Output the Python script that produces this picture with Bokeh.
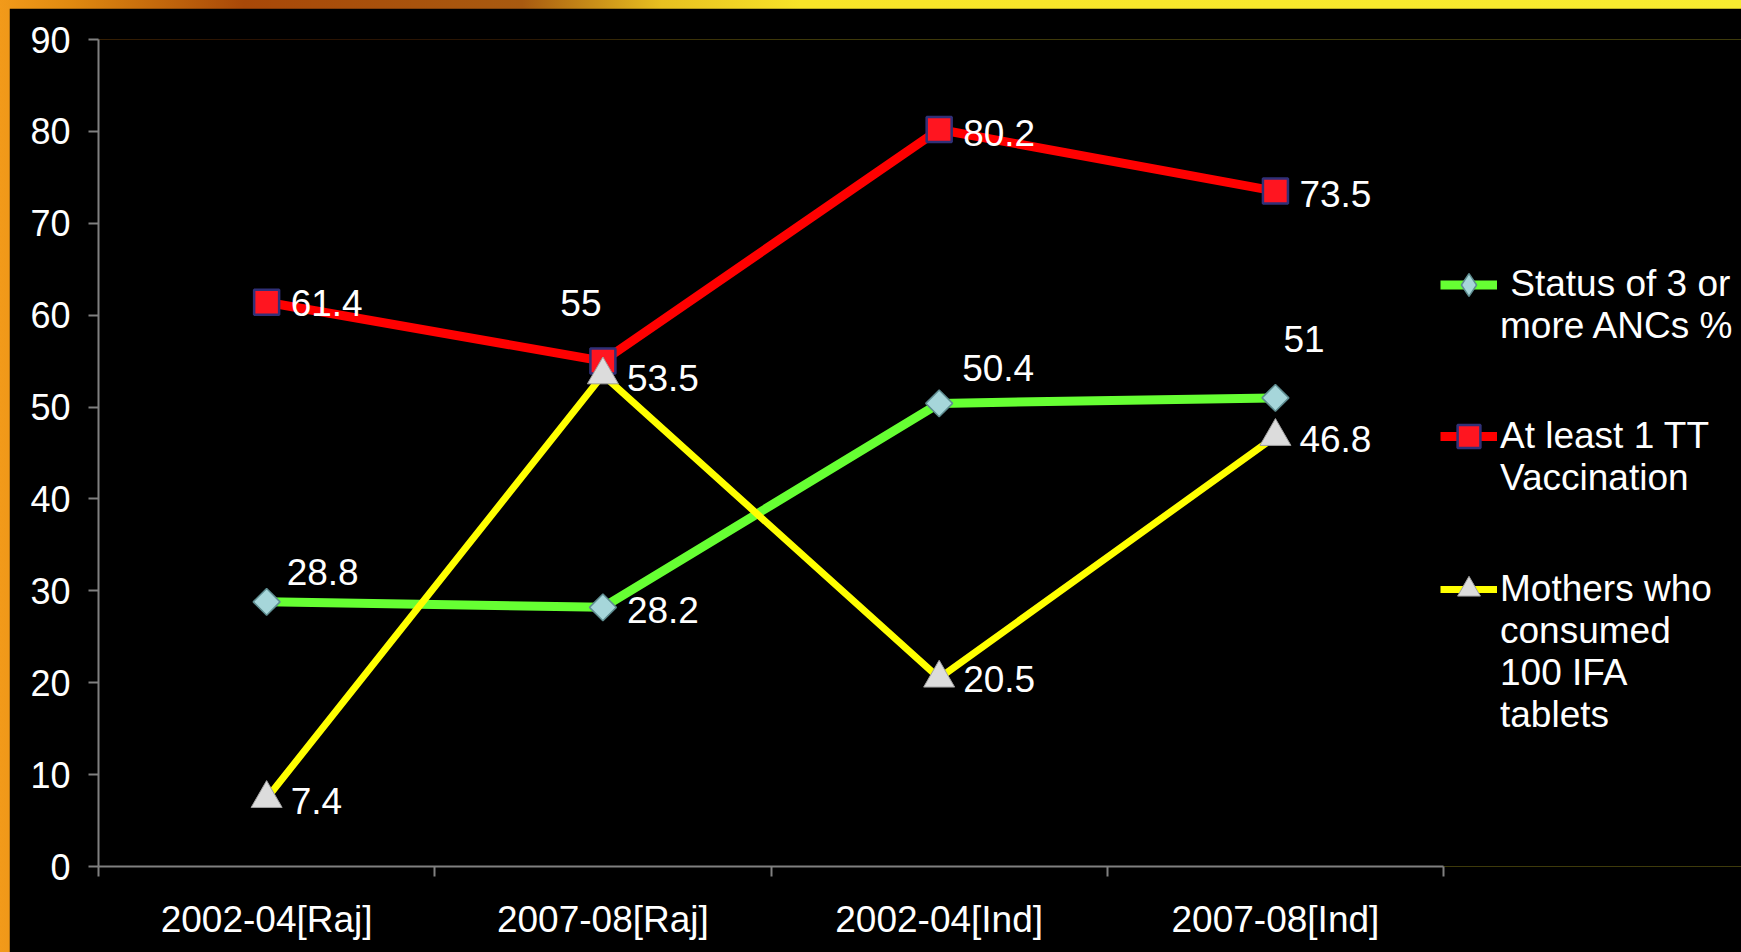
from bokeh.plotting import figure
from bokeh.models import (ColumnDataSource, Range1d, LinearAxis, FixedTicker,
                          Legend, LegendItem)
from bokeh.core.properties import value
from bokeh.embed import file_html
from bokeh.resources import INLINE
import math

# ---------------- data ----------------
categories = ["2002-04[Raj]", "2007-08[Raj]", "2002-04[Ind]", "2007-08[Ind]"]
anc_values = [28.8, 28.2, 50.4, 51]
tt_values = [61.4, 55, 80.2, 73.5]
ifa_values = [7.4, 53.5, 20.5, 46.8]
series_names = [" Status of 3 or\nmore ANCs %", "At least 1 TT\nVaccination",
                "Mothers who\nconsumed\n100 IFA\ntablets"]
y_ticks = [0, 10, 20, 30, 40, 50, 60, 70, 80, 90]

# label placement styles (screen px offsets)
anc_dx = [20, 24, 23, 8]
anc_dy = [-30, 3, -35, -59]
anc_align = ["left", "left", "left", "left"]
tt_dx = [24, -22, 24, 24]
tt_dy = [1, -58, 3, 3]
tt_align = ["left", "center", "left", "left"]
ifa_dx = [24, 24, 24, 24]
ifa_dy = [2, 3, 1, 3]
ifa_align = ["left", "left", "left", "left"]

# legend layout styles: (bottom offset in px from frame bottom, glyph height)
legend_y = [519, 367, 130]
legend_glyph_h = [67, 70, 70]

FONT = "Liberation Sans"
LH = 1.1
n = len(categories)
xs = [i + 0.5 for i in range(n)]

p = figure(width=1732, height=944, output_backend="svg", toolbar_location=None,
           x_range=Range1d(0, 4.886), y_range=Range1d(0, 90),
           min_border_left=89, min_border_top=31, min_border_bottom=86,
           min_border_right=0, x_axis_location=None, y_axis_location=None)
p.background_fill_color = "black"
p.border_fill_color = "black"
p.outline_line_color = None
p.grid.visible = False

# axes
xaxis = LinearAxis(bounds=(0, n))
xaxis.ticker = FixedTicker(ticks=xs, minor_ticks=list(range(n + 1)))
xaxis.major_label_overrides = {x: c for x, c in zip(xs, categories)}
xaxis.major_tick_out = 0
xaxis.major_tick_in = 0
xaxis.minor_tick_out = 10
xaxis.minor_tick_in = 0
xaxis.minor_tick_line_color = "#808080"
xaxis.minor_tick_line_width = 2
xaxis.axis_line_color = "#808080"
xaxis.axis_line_width = 2
xaxis.major_label_text_color = "white"
xaxis.major_label_text_font = FONT
xaxis.major_label_text_font_size = "37px"
xaxis.major_label_standoff = 22
p.add_layout(xaxis, "below")

yaxis = LinearAxis(bounds=(0, 90))
yaxis.ticker = FixedTicker(ticks=y_ticks, minor_ticks=[])
yaxis.major_tick_out = 10
yaxis.major_tick_in = 0
yaxis.major_tick_line_color = "#808080"
yaxis.major_tick_line_width = 2
yaxis.axis_line_color = "#808080"
yaxis.axis_line_width = 2
yaxis.major_label_text_color = "white"
yaxis.major_label_text_font = FONT
yaxis.major_label_text_font_size = "36px"
yaxis.major_label_standoff = 18
p.add_layout(yaxis, "left")

specs = [
    (anc_values, "#66FF33", 9, dict(marker="square", angle=math.pi / 4, size=19,
                                     fill_color="#A6D6DA", line_color="#5E8C90", line_width=1.5),
     anc_dx, anc_dy, anc_align, "diamond"),
    (tt_values, "#FF0000", 9, dict(marker="square", size=25, fill_color="#FF1520",
                                   line_color="#303078", line_width=2.5),
     tt_dx, tt_dy, tt_align, None),
    (ifa_values, "#FFFF00", 7, dict(marker="triangle", size=31, fill_color="#DCDCDC",
                                    line_color="#A0A0A0", line_width=1),
     ifa_dx, ifa_dy, ifa_align, None),
]
for (vals, col, lw, mk, dx, dy, al, leg_marker), name, ly, gh in zip(
        specs, series_names, legend_y, legend_glyph_h):
    src = ColumnDataSource(dict(x=xs, y=vals, lab=[f"{v:g}" for v in vals],
                                dx=dx, dy=dy, al=al))
    lr = p.line("x", "y", source=src, line_color=col, line_width=lw)
    sr = p.scatter("x", "y", source=src, **mk)
    p.text("x", "y", text="lab", source=src, x_offset="dx", y_offset="dy",
           text_align="al", text_baseline="middle", text_color="white",
           text_font=value(FONT), text_font_size="37px")
    leg_renderers = [lr, sr]
    if leg_marker is not None:
        # legend swatches ignore marker angle: a zero-size diamond renderer
        # (invisible in the plot) supplies the key, whose size comes from the box
        kmk = dict(mk)
        kmk.pop("angle", None)
        kmk["marker"] = leg_marker
        kmk["size"] = 0
        kr = p.scatter("x", "y", source=src, **kmk)
        leg_renderers = [lr, kr]
    # blank lines above keep the legend glyph level with the first text line
    k = name.count("\n")
    label = "\n" * k + name
    lg = Legend(items=[LegendItem(label=label, renderers=leg_renderers)],
                location=(1342, ly), orientation="vertical")
    lg.label_text_font = FONT
    lg.label_text_font_size = "37px"
    lg.label_text_color = "white"
    lg.label_text_line_height = LH
    lg.glyph_width = 57
    lg.glyph_height = gh
    lg.label_standoff = 3
    lg.padding = 0
    lg.margin = 0
    lg.background_fill_alpha = 0
    lg.border_line_alpha = 0
    p.add_layout(lg)

html = file_html(p, INLINE)
style = ("<style>html,body{margin:0;padding:0;overflow:hidden;}"
         "body{padding:8px 0 0 9px;box-sizing:border-box;width:1741px;height:952px;"
         "background:linear-gradient(to right,#f29a1a 0%,#e08a10 4%,#a84808 14%,#a85a10 30%,"
         "#e8c020 38%,#f8e428 46%,#f8ec30 100%);}</style></head>")
html = html.replace("</head>", style, 1)
open("out.html", "w").write(html)
